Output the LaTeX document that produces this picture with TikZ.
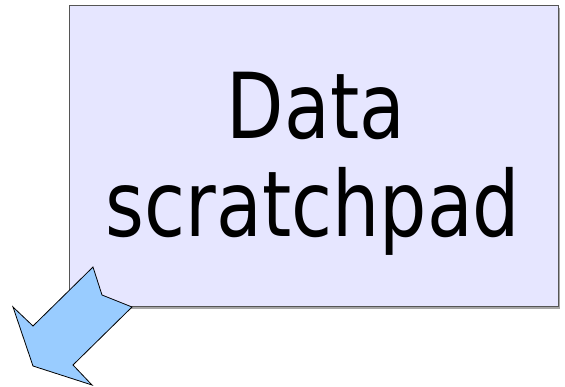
\documentclass[tikz,border=0pt]{standalone}
\usepackage{fontspec}
\setmainfont{DejaVu Sans}
\definecolor{padfill}{HTML}{E6E6FF}
\definecolor{padline}{HTML}{555555}
\definecolor{arrowfill}{HTML}{99CCFF}
\tikzset{
  padbox/.style={draw=padline, fill=padfill, line width=1pt},
  padtext/.style={anchor=base, inner sep=0pt, font=\fontsize{91}{91}\selectfont},
  blockarrow/.style={draw=black, fill=arrowfill, line width=0.8pt, line join=miter}
}
\begin{document}
\begin{tikzpicture}[x=1pt, y=-1pt]
  \useasboundingbox (0,0) rectangle (565,386);
  % scratchpad card with a thin drop shadow
  \fill[gray!70] (71.5,7.5) rectangle (560,308.5);
  \draw[padbox] (69.5,5.5) rectangle (558,306.5);
  \node[padtext] (line1) at (316,138) {\scalebox{0.82}[1]{Data}};
  \node[padtext] (line2) at (313,236) {\scalebox{0.82}[1]{scratchpad}};
  % block arrow leaving the card towards the lower left
  \draw[blockarrow] (93,267) -- (102,295) -- (132,307) -- (73,365) -- (92,385)
    -- (33,366) -- (13,307) -- (33,326) -- cycle;
\end{tikzpicture}
\end{document}
